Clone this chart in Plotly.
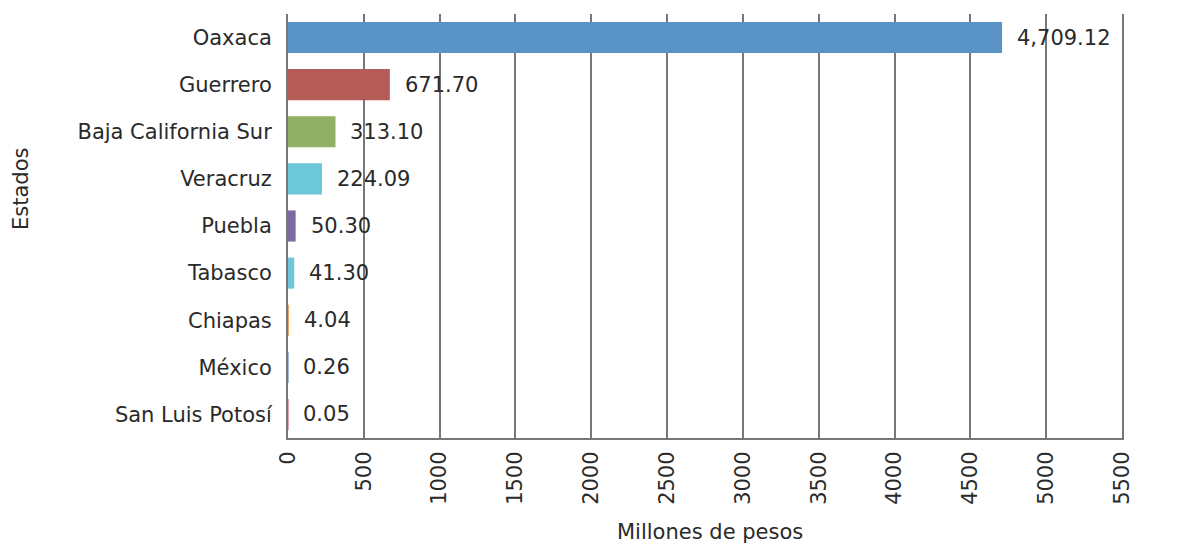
import plotly.graph_objects as go

estados = ["Oaxaca", "Guerrero", "Baja California Sur", "Veracruz", "Puebla",
           "Tabasco", "Chiapas", "México", "San Luis Potosí"]
valores = [4709.12, 671.70, 313.10, 224.09, 50.30, 41.30, 4.04, 0.26, 0.05]
etiquetas = ["4,709.12", "671.70", "313.10", "224.09", "50.30", "41.30", "4.04", "0.26", "0.05"]
colores = ["#5a93c7", "#b65c58", "#91b066", "#6cc8d7", "#7d6aa0",
           "#6fc7d8", "#f0a262", "#a3bbdb", "#e3a3ab"]
x_ticks = list(range(0, 5501, 500))

FONT = "DejaVu Sans, Verdana, sans-serif"
GRID = "#77777a"
TXT = "#2a2a2a"
FS = 21

fig = go.Figure(go.Bar(
    y=estados,
    x=valores,
    orientation="h",
    marker=dict(color=colores, line=dict(width=0)),
    hoverinfo="skip",
))

# value labels placed just past the end of each bar
for est, val, lab in zip(estados, valores, etiquetas):
    fig.add_annotation(x=val, y=est, xref="x", yref="y", text=lab,
                       showarrow=False, xanchor="left", yanchor="middle",
                       xshift=13, font=dict(size=FS, color=TXT, family=FONT))

fig.add_annotation(text="Estados", xref="paper", yref="paper",
                   x=(21 - 288) / 834, y=(438 - 189) / 424, textangle=-90,
                   showarrow=False, xanchor="center", yanchor="middle",
                   font=dict(size=FS, color=TXT, family=FONT))
fig.add_annotation(text="Millones de pesos", xref="paper", yref="paper",
                   x=(710 - 288) / 834, y=(438 - 532) / 424,
                   showarrow=False, xanchor="center", yanchor="middle",
                   font=dict(size=FS, color=TXT, family=FONT))

fig.update_layout(
    width=1191, height=546,
    margin=dict(l=288, r=69, t=14, b=108),
    paper_bgcolor="white", plot_bgcolor="white",
    bargap=0.34,
    showlegend=False,
    font=dict(family=FONT, size=FS, color=TXT),
    xaxis=dict(range=[0, 5500], tickvals=x_ticks, ticktext=[str(v) for v in x_ticks],
               tickangle=-90, showgrid=True, gridcolor=GRID, gridwidth=2,
               showline=True, linecolor=GRID, linewidth=2, zeroline=False,
               ticks="", ticklabelstandoff=3, tickfont=dict(size=FS, family=FONT)),
    yaxis=dict(categoryorder="array", categoryarray=estados, autorange="reversed",
               showgrid=False, showline=True, mirror=True, linecolor=GRID, linewidth=2,
               zeroline=False, ticks="", ticklabelstandoff=10,
               tickfont=dict(size=FS, family=FONT)),
)

fig.write_html("out.html")
